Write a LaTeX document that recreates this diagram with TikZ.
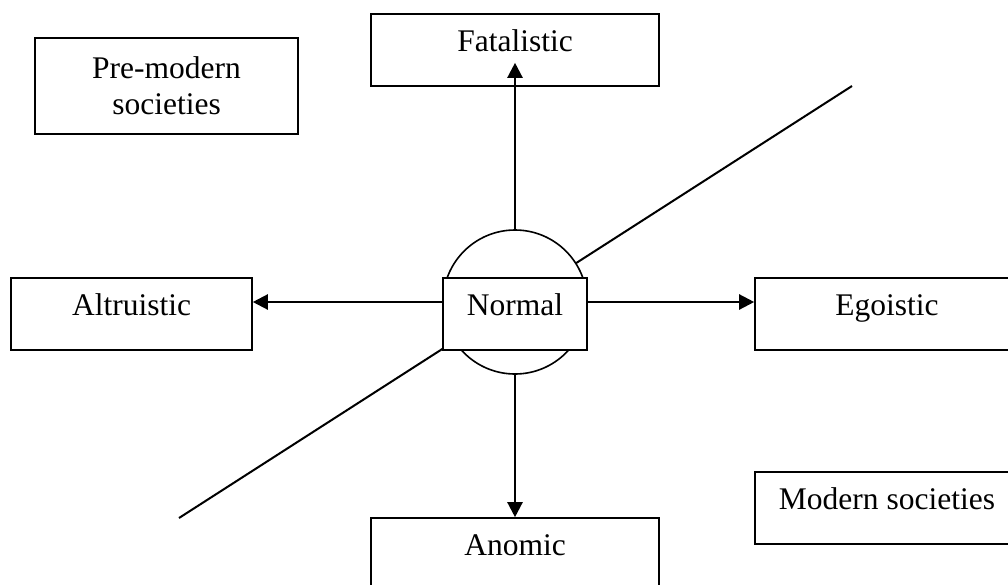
\documentclass[tikz,border=0pt]{standalone}
\usepackage{fontspec}
\setmainfont{Liberation Serif}
\usetikzlibrary{arrows.meta}
\tikzset{
  typebox/.style={draw,line width=1.6pt,fill=white,inner sep=0pt,
    text height=0.68em,text depth=0.35em},
  link/.style={line width=2.3pt,-{Triangle[width=15pt,length=15pt]}}
}
\begin{document}
\begin{tikzpicture}[x=1pt,y=-1pt,font=\fontsize{31.5}{36}\selectfont]
		\useasboundingbox (0,0) rectangle (1008,584);
		\clip (0,0) rectangle (1008,584);
		% dividing line
		\coordinate (lo) at (179,518);
		\coordinate (hi) at (852,86);
		\draw [line width=2pt] (lo)--(hi);
		% centre
		\node [circle,draw,line width=1.6pt,fill=white,minimum size=144pt,inner sep=0pt] (circ) at (515,302) {};
		\node [typebox,minimum width=144pt,minimum height=72pt] (normal) at (515,314) {Normal};
		% suicide types
		\node [typebox,minimum width=288pt,minimum height=72pt] (fatalistic) at (515,50) {Fatalistic};
		\node [typebox,minimum width=288pt,minimum height=72pt] (anomic) at (515,554) {Anomic};
		\node [typebox,minimum width=241pt,minimum height=72pt] (altruistic) at (131.5,314) {Altruistic};
		\node [typebox,minimum width=264pt,minimum height=72pt] (egoistic) at (887,314) {Egoistic};
		% societies
		\node [draw,line width=1.6pt,align=center,inner sep=0pt,minimum width=263pt,minimum height=96pt] (premodern) at (166.5,86) {Pre-modern\\societies};
		\node [typebox,minimum width=264pt,minimum height=72pt] (modern) at (887,508) {Modern societies};
		% arrows
		\draw [link] (circ.north)--([yshift=24pt]fatalistic.south);
		\draw [link] (circ.south)--(anomic.north);
		\draw [link] (circ.west)--(altruistic.east |- circ.west);
		\draw [link] (circ.east)--(egoistic.west |- circ.east);
		\end{tikzpicture}
\end{document}
